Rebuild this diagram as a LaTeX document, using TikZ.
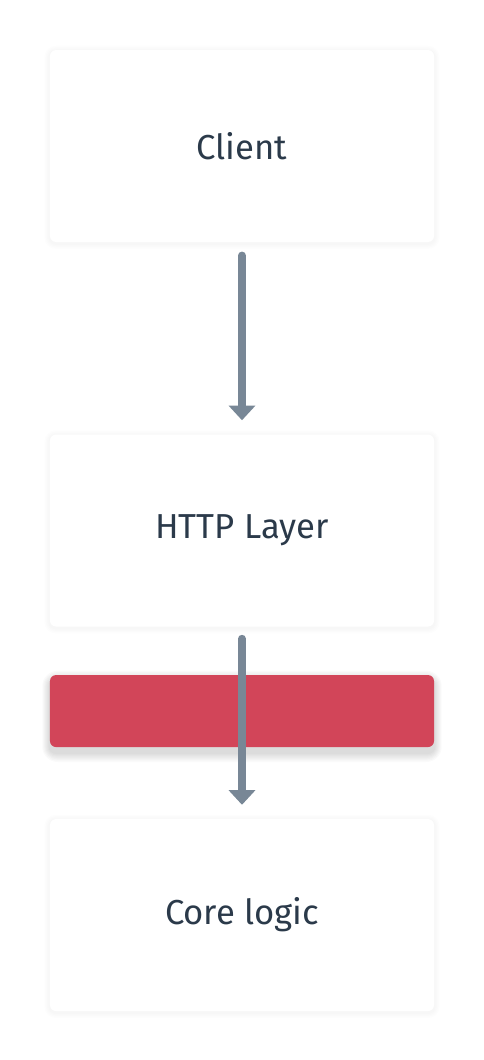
\documentclass[tikz,border=0pt]{standalone}
\usepackage{fontspec}
\setmainfont{Fira Sans}
\usepackage{tikz}
\usetikzlibrary{
	positioning,
	arrows.meta,
	backgrounds
}
\definecolor{LayerText}{RGB}{43,58,74}
\definecolor{FlowGray}{RGB}{120,135,150}
\definecolor{BarRed}{RGB}{210,69,89}
\definecolor{PageWhite}{RGB}{255,255,255}

\begin{document}
\begin{tikzpicture}
				
				\tikzset{
					layerbox/.style={
						fill=white,
						rounded corners=4.5pt,
						minimum width=288pt,
						minimum height=144pt,
						text=LayerText,
						font=\fontsize{26pt}{30pt}\selectfont
					},
					flowarrow/.style={
						-{Triangle[width=19.5pt,length=11pt]},
						line width=6pt,
						line cap=round,
						FlowGray
					}
				}
				
				\node[layerbox] (C) {Client};
				
				\node[
				layerbox,
				below=144pt of C
				] (H) {HTTP Layer};
				
				\node[
				fill=BarRed,
				rounded corners=4.5pt,
				minimum width=288pt,
				minimum height=54pt,
				below=36pt of H
				] (B) {};
				
				\node[
				layerbox,
				below=144pt of H
				] (L) {Core logic};
				
				\draw[
				flowarrow,
				shorten <=10pt,
				shorten >=10.5pt
				] (C) -- (H);
				
				\draw[
				flowarrow,
				shorten <=9pt,
				shorten >=10.5pt
				] (H) -- (L);
				
				% soft shadows
				\begin{scope}[on background layer]
					\fill[PageWhite] (-181.5pt,109.5pt) rectangle (181.5pt,-685.5pt);
					\foreach \n in {C,H,L}
						\foreach \r in {1,...,4}
							\fill[black, opacity=0.006, rounded corners=4.5pt+\r pt]
							([shift={(-\r pt,-1pt-\r pt)}]\n.south west) rectangle ([shift={(\r pt,\r pt-1pt)}]\n.north east);
					\foreach \r in {1,...,7}
						\fill[black, opacity=0.02, rounded corners=4.5pt+\r pt]
						([shift={(-0.8*\r pt,-4pt-\r pt)}]B.south west) rectangle ([shift={(0.8*\r pt,\r pt-4pt)}]B.north east);
				\end{scope}
				
				\useasboundingbox (-181.5pt,109.5pt) rectangle (181.5pt,-685.5pt);
				
			\end{tikzpicture}
\end{document}
